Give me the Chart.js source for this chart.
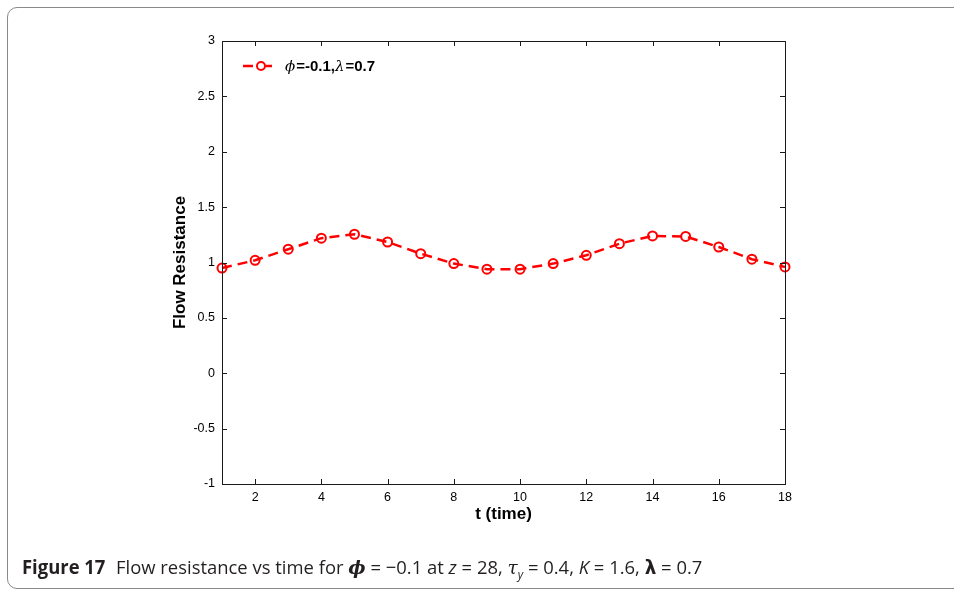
<!DOCTYPE html>
<html>
<head>
    <title>Flow Resistance vs Time</title>
    <script src="https://cdn.jsdelivr.net/npm/chart.js"></script>
    <style>
        body {
            margin: 0;
            background-color: #ffffff;
        }
        .figure-box {
            position: absolute;
            left: 7px;
            top: 7px;
            width: 980px;
            height: 580px;
            border: 1.5px solid #8a8a8a;
            border-radius: 10px;
        }
        .chart-wrap {
            position: absolute;
            left: 0;
            top: 0;
            width: 954px;
            height: 592px;
        }
        .caption {
            position: absolute;
            left: 22px;
            top: 554px;
            font-family: "Open Sans", sans-serif;
            font-size: 19px;
            color: #231f20;
            white-space: nowrap;
            transform: scaleX(0.97);
            transform-origin: left center;
        }
        .caption .fig {
            font-weight: 700;
            margin-right: 6px;
        }
        .caption .greek {
            font-family: "DejaVu Serif", serif;
            font-style: italic;
        }
        .caption .var {
            font-style: italic;
        }
    </style>
</head>
<body>
    <div class="figure-box"></div>
    <div class="chart-wrap">
        <canvas id="resistanceChart" width="954" height="592"></canvas>
    </div>
    <div class="caption"><span class="fig">Figure 17</span> Flow resistance vs time for <b class="greek">&#981;</b> = &minus;0.1 at <span class="var">z</span> = 28, <span class="greek">&tau;</span><sub class="var" style="font-size:12px">y</sub> = 0.4, <span class="var">K</span> = 1.6, <b style="font-family:'DejaVu Sans',sans-serif">&lambda;</b> = 0.7</div>

    <script>
        // time steps and the flow resistance at each one
        const timeSteps = [1, 2, 3, 4, 5, 6, 7, 8, 9, 10, 11, 12, 13, 14, 15, 16, 17, 18];
        const flowResistance = [0.95, 1.02, 1.12, 1.22, 1.255, 1.185, 1.08, 0.99, 0.94,
                                0.94, 0.99, 1.065, 1.17, 1.24, 1.235, 1.14, 1.03, 0.96];
        const xTickValues = [2, 4, 6, 8, 10, 12, 14, 16, 18];
        const yTickValues = [-1, -0.5, 0, 0.5, 1, 1.5, 2, 2.5, 3];

        const seriesLabel = ['\u03D5', '=-0.1,', '\u03BB', '=0.7'];
        const xTitle = 't (time)';
        const yTitle = 'Flow Resistance';

        // frame, inward ticks, axis titles and the legend box
        const framePlugin = {
            id: 'framePlugin',
            afterDraw(chart) {
                const ctx = chart.ctx;
                const area = chart.chartArea;
                const xs = chart.scales.x;
                const ys = chart.scales.y;
                ctx.save();
                ctx.strokeStyle = '#1a1a1a';
                ctx.lineWidth = 1;
                ctx.strokeRect(area.left + 0.5, area.top + 0.5, area.right - area.left, area.bottom - area.top);

                ctx.beginPath();
                xTickValues.forEach(v => {
                    const px = Math.round(xs.getPixelForValue(v)) + 0.5;
                    ctx.moveTo(px, area.bottom);
                    ctx.lineTo(px, area.bottom - 5);
                    ctx.moveTo(px, area.top);
                    ctx.lineTo(px, area.top + 5);
                });
                yTickValues.forEach(v => {
                    const py = Math.round(ys.getPixelForValue(v)) + 0.5;
                    ctx.moveTo(area.left, py);
                    ctx.lineTo(area.left + 5, py);
                    ctx.moveTo(area.right, py);
                    ctx.lineTo(area.right - 5, py);
                });
                ctx.stroke();

                // axis titles
                ctx.fillStyle = '#000';
                ctx.font = 'bold 17px "Liberation Sans", Arial, sans-serif';
                ctx.textAlign = 'center';
                ctx.textBaseline = 'middle';
                ctx.fillText(xTitle, (area.left + area.right) / 2, 514);
                ctx.translate(180, (area.top + area.bottom) / 2);
                ctx.rotate(-Math.PI / 2);
                ctx.fillText(yTitle, 0, 0);
                ctx.restore();

                // legend entry
                ctx.save();
                const ly = 66;
                ctx.strokeStyle = '#ff0000';
                ctx.lineWidth = 2.5;
                ctx.beginPath();
                ctx.moveTo(243, ly);
                ctx.lineTo(253, ly);
                ctx.moveTo(266, ly);
                ctx.lineTo(272, ly);
                ctx.stroke();
                ctx.lineWidth = 2;
                ctx.beginPath();
                ctx.arc(261, ly, 4, 0, Math.PI * 2);
                ctx.stroke();

                ctx.fillStyle = '#000';
                ctx.textBaseline = 'alphabetic';
                ctx.textAlign = 'left';
                let tx = 285;
                seriesLabel.forEach((part, i) => {
                    ctx.font = (i % 2 === 0)
                        ? 'italic 15px "DejaVu Serif", serif'
                        : 'bold 15px "Liberation Sans", Arial, sans-serif';
                    ctx.fillText(part, tx, ly + 5);
                    tx += ctx.measureText(part).width + (i % 2 === 0 ? 1 : 0);
                });
                ctx.restore();
            }
        };

        const ctx = document.getElementById('resistanceChart').getContext('2d');
        const chart = new Chart(ctx, {
            type: 'line',
            data: {
                labels: timeSteps,
                datasets: [{
                    label: 'Flow Resistance',
                    data: timeSteps.map((t, i) => ({ x: t, y: flowResistance[i] })),
                    borderColor: '#ff0000',
                    borderWidth: 2.5,
                    borderDash: [10, 6],
                    backgroundColor: 'transparent',
                    pointBackgroundColor: 'transparent',
                    pointBorderColor: '#ff0000',
                    pointBorderWidth: 2,
                    pointRadius: 4.5,
                    tension: 0,
                    clip: false
                }]
            },
            options: {
                responsive: false,
                animation: false,
                layout: {
                    padding: { left: 0, top: 41, right: 169, bottom: 0 }
                },
                plugins: {
                    legend: { display: false },
                    tooltip: { enabled: false }
                },
                scales: {
                    x: {
                        type: 'linear',
                        min: 1,
                        max: 18,
                        grid: { display: false, drawTicks: false },
                        border: { display: false },
                        afterBuildTicks: axis => {
                            axis.ticks = xTickValues.map(v => ({ value: v }));
                        },
                        afterFit: scale => { scale.height = 108; },
                        ticks: {
                            color: '#000',
                            padding: 6,
                            maxRotation: 0,
                            callback: v => String(v),
                            font: { family: '"Liberation Sans", Arial, sans-serif', size: 12.5 }
                        }
                    },
                    y: {
                        min: -1,
                        max: 3,
                        grid: { display: false, drawTicks: false },
                        border: { display: false },
                        afterBuildTicks: axis => {
                            axis.ticks = yTickValues.map(v => ({ value: v }));
                        },
                        afterFit: scale => { scale.width = 222; },
                        ticks: {
                            color: '#000',
                            padding: 7,
                            callback: v => String(v),
                            font: { family: '"Liberation Sans", Arial, sans-serif', size: 12.5 }
                        }
                    }
                }
            },
            plugins: [framePlugin]
        });
    </script>
</body>
</html>
